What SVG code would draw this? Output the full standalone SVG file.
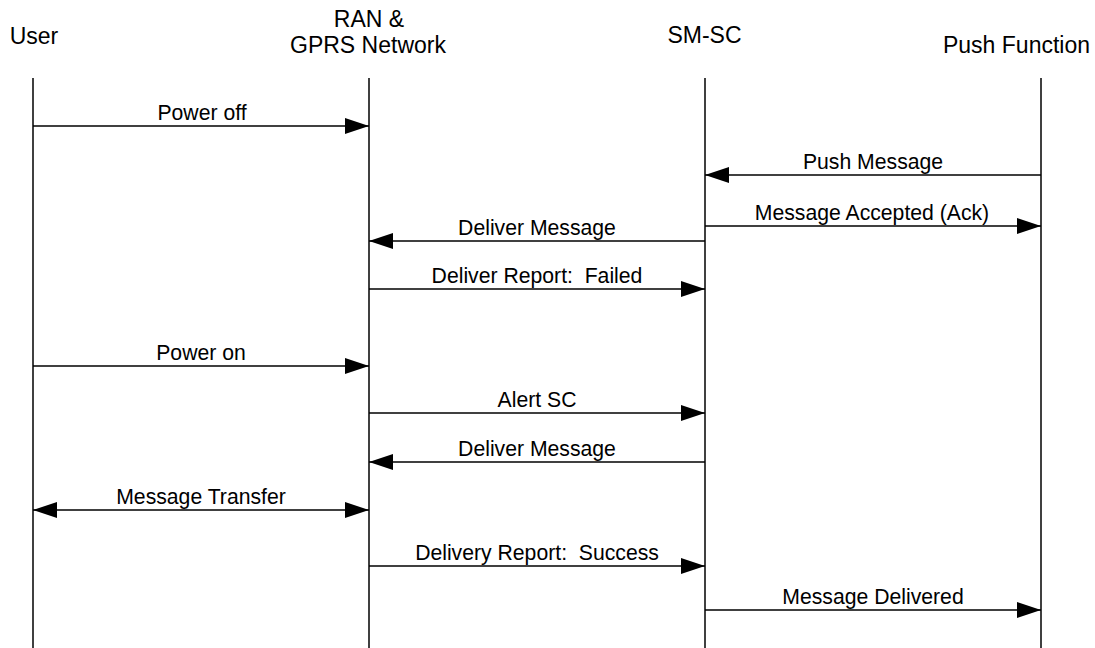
<svg xmlns="http://www.w3.org/2000/svg" width="1095" height="648" viewBox="0 0 1095 648">
<style>
  text { font-family: "Liberation Sans", Arial, sans-serif; fill: #000; white-space: pre; }
  .hdr { font-size: 23px; text-anchor: middle; }
  .lbl { font-size: 21.2px; text-anchor: middle; }
  .life { stroke: #000; stroke-width: 1.5; fill: none; }
  .msg { stroke: #000; stroke-width: 1.5; fill: none; }
</style>
<defs>
  <marker id="ah" viewBox="0 0 24 16" refX="24" refY="8" markerWidth="24" markerHeight="16" markerUnits="userSpaceOnUse" orient="auto-start-reverse">
    <path d="M0,0 L24,8 L0,16 Z" fill="#000"/>
  </marker>
</defs>
<rect width="1095" height="648" fill="#fff"/>
<g id="user">
  <text class="hdr" x="34" y="44">User</text>
  <line class="life" x1="33" y1="78" x2="33" y2="648"/>
</g>
<g id="ran">
  <text class="hdr" x="369" y="26.5">RAN &amp;</text>
  <text class="hdr" x="368" y="52.5">GPRS Network</text>
  <line class="life" x1="369" y1="78" x2="369" y2="648"/>
</g>
<g id="smsc">
  <text class="hdr" x="704.5" y="43">SM-SC</text>
  <line class="life" x1="705" y1="78" x2="705" y2="648"/>
</g>
<g id="push">
  <text class="hdr" x="1016.5" y="53">Push Function</text>
  <line class="life" x1="1041" y1="78" x2="1041" y2="648"/>
</g>
<g id="connectors">
  <line class="msg" x1="33" y1="126" x2="369" y2="126" marker-end="url(#ah)"/>
  <text class="lbl" x="202" y="120">Power off</text>

  <line class="msg" x1="1041" y1="175" x2="705" y2="175" marker-end="url(#ah)"/>
  <text class="lbl" x="873" y="169">Push Message</text>

  <line class="msg" x1="705" y1="226" x2="1041" y2="226" marker-end="url(#ah)"/>
  <text class="lbl" x="872" y="220">Message Accepted (Ack)</text>

  <line class="msg" x1="705" y1="241" x2="369" y2="241" marker-end="url(#ah)"/>
  <text class="lbl" x="537" y="235">Deliver Message</text>

  <line class="msg" x1="369" y1="289" x2="705" y2="289" marker-end="url(#ah)"/>
  <text class="lbl" x="537" y="283">Deliver Report:  Failed</text>

  <line class="msg" x1="33" y1="366" x2="369" y2="366" marker-end="url(#ah)"/>
  <text class="lbl" x="201" y="360">Power on</text>

  <line class="msg" x1="369" y1="413" x2="705" y2="413" marker-end="url(#ah)"/>
  <text class="lbl" x="537" y="407">Alert SC</text>

  <line class="msg" x1="705" y1="462" x2="369" y2="462" marker-end="url(#ah)"/>
  <text class="lbl" x="537" y="456">Deliver Message</text>

  <line class="msg" x1="33" y1="510" x2="369" y2="510" marker-start="url(#ah)" marker-end="url(#ah)"/>
  <text class="lbl" x="201" y="504">Message Transfer</text>

  <line class="msg" x1="369" y1="566" x2="705" y2="566" marker-end="url(#ah)"/>
  <text class="lbl" x="537" y="560">Delivery Report:  Success</text>

  <line class="msg" x1="705" y1="610" x2="1041" y2="610" marker-end="url(#ah)"/>
  <text class="lbl" x="873" y="604">Message Delivered</text>
</g>
</svg>
